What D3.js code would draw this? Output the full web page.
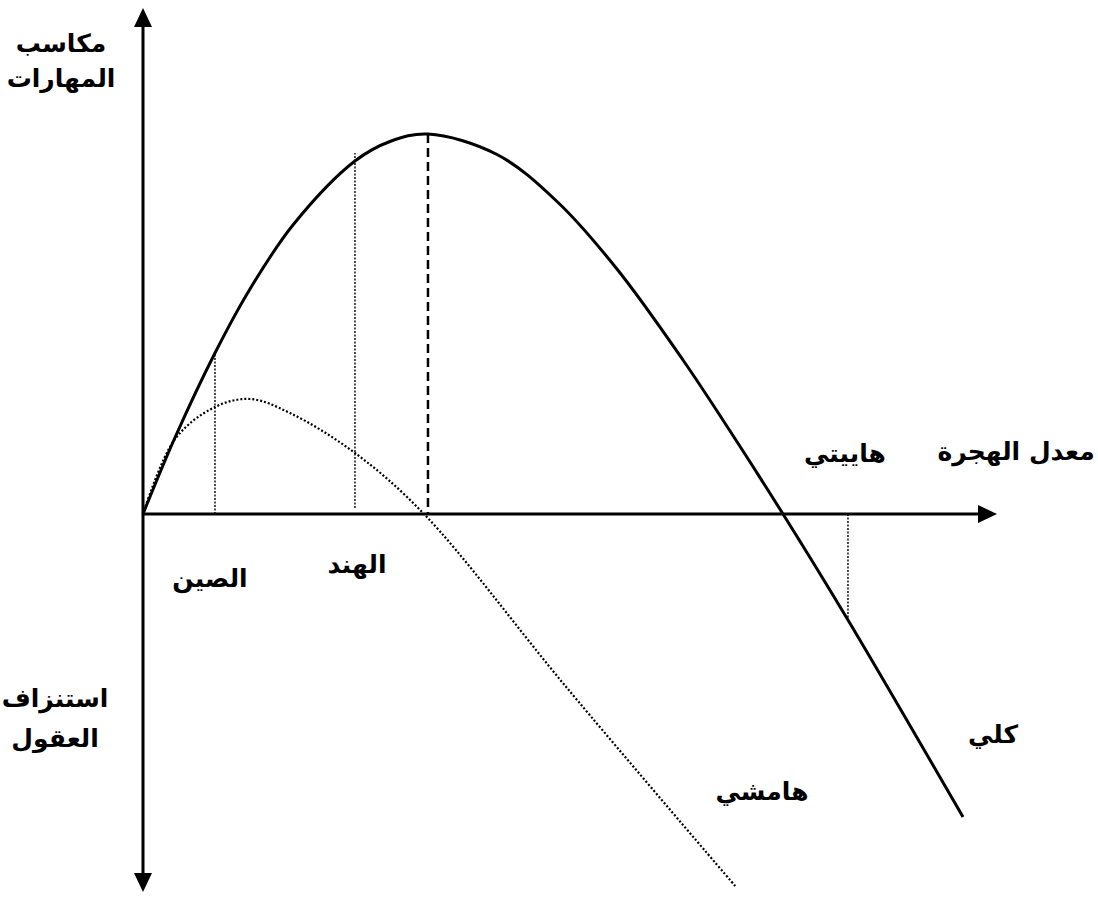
<!DOCTYPE html>
<html lang="ar">
<head>
<meta charset="utf-8">
<script src="https://cdn.jsdelivr.net/npm/d3@7"></script>
<style>
  html, body { margin: 0; padding: 0; background: #fff; }
  svg text {
    font-family: 'DejaVu Sans', sans-serif;
    font-weight: bold;
    fill: #000;
  }
</style>
</head>
<body>
<div id="chart"></div>
<script>
// migration rate (x) and skill gain (y)
const totalX = [0, 3.75, 8.43, 12.53, 17.56, 24.82, 28.92, 33.37, 41.45, 48.48, 55.5, 63.23, 68.74, 74.94, 82.55, 96.02];
const totalY = [0, 15.3, 32.2, 45.0, 57.8, 70.6, 74.5, 76, 71.9, 62.5, 49.0, 30.8, 16.6, 0, -21.2, -60.6];

const marginalX = [0, 3.75, 8.43, 12.53, 17.21, 24.82, 32.9, 49.65, 69.44];
const marginalY = [0, 15.0, 21.4, 23, 20.2, 12.2, 0, -34.8, -74.6];

const countries = ['الصين', 'الهند', 'هاييتي'];
const countryRate = [8.43, 24.82, 82.55];
const countryGain = [32.2, 72.2, -21.2];

const peakRate = 33.37;
const peakGain = 76;

const yAxisTop = ['مكاسب', 'المهارات'];
const yAxisBottom = ['استنزاف', 'العقول'];
const xAxisLabel = 'معدل الهجرة';
const curveNames = ['كلي', 'هامشي'];

const WIDTH = 1098;
const HEIGHT = 897;

const x = d3.scaleLinear().domain([0, 100]).range([143, 997]);
const y = d3.scaleLinear().domain([-75.6, 101.2]).range([892, 8]);

const svg = d3.select('#chart')
  .append('svg')
  .attr('width', WIDTH)
  .attr('height', HEIGHT);

const zip = (xs, ys) => xs.map((v, i) => [v, ys[i]]);

const line = d3.line()
  .x((d) => x(d[0]))
  .y((d) => y(d[1]))
  .curve(d3.curveCatmullRom.alpha(0.5));

// axes with arrow heads
const x0 = x(0);
const y0 = y(0);
const head = 19;
const half = 9;

svg.append('line')
  .attr('x1', x0).attr('x2', x0)
  .attr('y1', y.range()[1] + head - 2).attr('y2', y.range()[0] - head + 2)
  .attr('stroke', '#000').attr('stroke-width', 3);

svg.append('line')
  .attr('x1', x0).attr('x2', x.range()[1] - head + 2)
  .attr('y1', y0).attr('y2', y0)
  .attr('stroke', '#000').attr('stroke-width', 3);

const arrows = [
  [[x0, y.range()[1]], [x0 - half, y.range()[1] + head], [x0 + half, y.range()[1] + head]],
  [[x0, y.range()[0]], [x0 - half, y.range()[0] - head], [x0 + half, y.range()[0] - head]],
  [[x.range()[1], y0], [x.range()[1] - head, y0 - half], [x.range()[1] - head, y0 + half]],
];

svg.append('g')
  .selectAll('path')
  .data(arrows)
  .join('path')
  .attr('d', (d) => `M${d.join('L')}Z`)
  .attr('fill', '#000');

// country guide lines
svg.append('g')
  .selectAll('line')
  .data(countries)
  .join('line')
  .attr('x1', (_, i) => x(countryRate[i]))
  .attr('x2', (_, i) => x(countryRate[i]))
  .attr('y1', (_, i) => (i === 1 ? y0 - 6 : y0))
  .attr('y2', (_, i) => y(countryGain[i]))
  .attr('stroke', '#000')
  .attr('stroke-width', 1.4)
  .attr('stroke-dasharray', '2,1.5');

// peak of the total curve
svg.append('line')
  .attr('x1', x(peakRate)).attr('x2', x(peakRate))
  .attr('y1', y(peakGain)).attr('y2', y0)
  .attr('stroke', '#000')
  .attr('stroke-width', 2.5)
  .attr('stroke-dasharray', '9,5');

svg.append('path')
  .datum(zip(marginalX, marginalY))
  .attr('d', line)
  .attr('fill', 'none')
  .attr('stroke', '#000')
  .attr('stroke-width', 2.2)
  .attr('stroke-dasharray', '2,2');

svg.append('path')
  .datum(zip(totalX, totalY))
  .attr('d', line)
  .attr('fill', 'none')
  .attr('stroke', '#000')
  .attr('stroke-width', 3);

// labels
const fontSize = 25;

const addLines = (lines, cx, firstY, gap) => {
  svg.append('text')
    .attr('text-anchor', 'middle')
    .attr('font-size', fontSize)
    .selectAll('tspan')
    .data(lines)
    .join('tspan')
    .attr('x', cx)
    .attr('y', (_, i) => firstY + i * gap)
    .text((d) => d);
};

addLines(yAxisTop, 61, 52, 35);
addLines(yAxisBottom, 55, 707, 40);

svg.append('text')
  .attr('x', 1016).attr('y', 460)
  .attr('text-anchor', 'middle')
  .attr('font-size', fontSize)
  .text(xAxisLabel);

const countryLabelY = [587, 573, 462];
const countryLabelDx = [-5, 2, -3];

svg.append('g')
  .selectAll('text')
  .data(countries)
  .join('text')
  .attr('x', (_, i) => x(countryRate[i]) + countryLabelDx[i])
  .attr('y', (_, i) => countryLabelY[i])
  .attr('text-anchor', 'middle')
  .attr('font-size', fontSize)
  .text((d) => d);

svg.append('text')
  .attr('x', 993).attr('y', 743)
  .attr('text-anchor', 'middle')
  .attr('font-size', fontSize)
  .text(curveNames[0]);

svg.append('text')
  .attr('x', 762).attr('y', 800)
  .attr('text-anchor', 'middle')
  .attr('font-size', fontSize)
  .text(curveNames[1]);
</script>
</body>
</html>
